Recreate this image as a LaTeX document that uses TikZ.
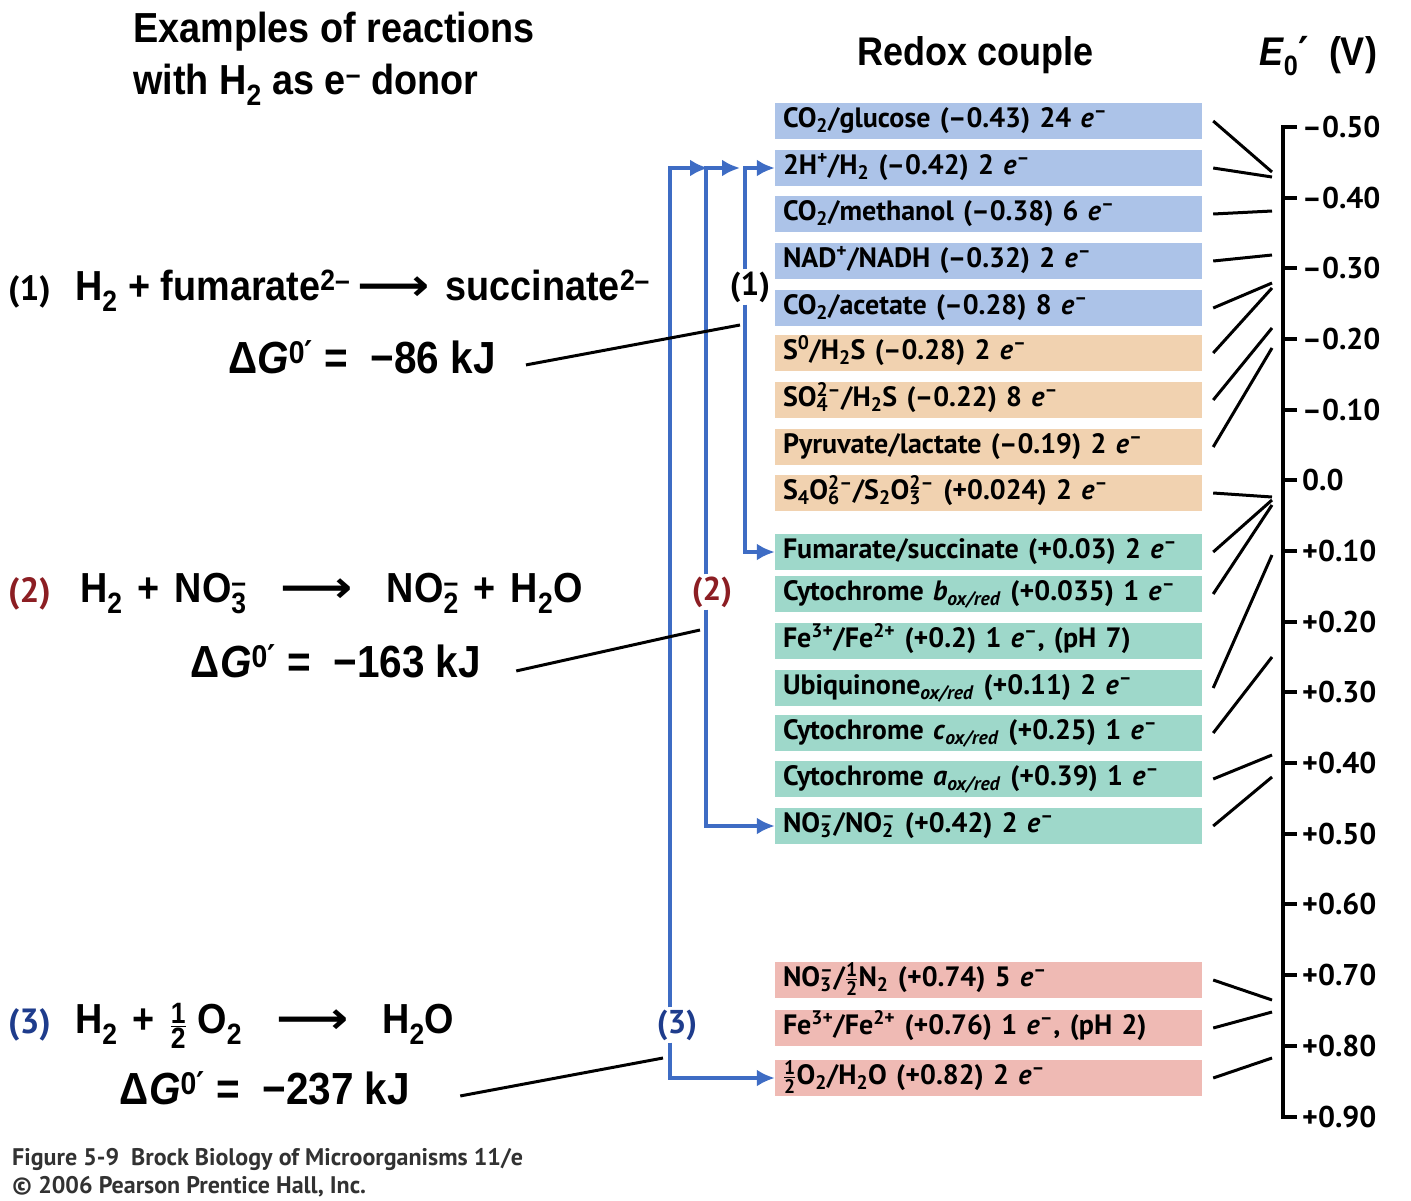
\documentclass[tikz,border=0pt]{standalone}
\usepackage{fontspec}
\usepackage{amsmath}
\usetikzlibrary{arrows.meta,calc}
\newfontfamily\hvy[FakeStretch=0.9]{Liberation Sans}
\newfontfamily\pts{PT Sans}
\newfontfamily\djv{DejaVu Sans}
\definecolor{bxb}{RGB}{172,195,232}
\definecolor{bxt}{RGB}{241,210,176}
\definecolor{bxg}{RGB}{158,216,202}
\definecolor{bxp}{RGB}{239,186,180}
\definecolor{lnblue}{RGB}{62,108,196}
\definecolor{dkred}{RGB}{140,30,35}
\definecolor{dkblue}{RGB}{30,60,140}
\definecolor{ftgray}{RGB}{50,50,50}
\newcommand\sbs[2]{\rlap{\textsubscript{#1}}\textsuperscript{#2}}
\newcommand\el{\textit{e}\textsuperscript{–}}
\newcommand\hf{$\tfrac{\text{1}}{\text{2}}$}
\newcommand\prm{{\djv ′}}
\newcommand\rarr{\scalebox{1.2}[1.05]{\djv ⟶}}
\newcommand\gp{\hspace{15pt}}
\newcommand\ga{\hspace{34pt}}
\begin{document}
\begin{tikzpicture}[x=1pt,y=-1pt,
  box/.style={minimum height=36pt,text width=411pt,inner xsep=8pt,inner ysep=0pt,align=left,text height=19pt,text depth=7pt,font={\pts\bfseries\fontsize{28}{30}\selectfont}},
  hv/.style={inner sep=0pt,font={\hvy\bfseries\fontsize{42}{44}\selectfont}},
  hvg/.style={inner sep=0pt,font={\hvy\bfseries\fontsize{45}{47}\selectfont}},
  hvh/.style={inner sep=0pt,font={\hvy\bfseries\fontsize{40}{42}\selectfont}},
  num/.style={inner sep=0pt,font={\pts\bfseries\fontsize{35}{37}\selectfont}},
  mid/.style={inner sep=2pt,font={\pts\bfseries\fontsize{33}{35}\selectfont}},
  tk/.style={anchor=base west,inner sep=0pt,font={\pts\bfseries\fontsize{30}{31}\selectfont}},
  ft/.style={anchor=base west,inner sep=0pt,text=ftgray,font={\pts\bfseries\fontsize{24}{25}\selectfont}},
  ptr/.style={line width=3pt,black},
  bl/.style={line width=4.5pt,draw=lnblue},
  tip/.style={-{Latex[length=18pt,width=17pt]},lnblue},
  axisln/.style={line width=3.5pt,black}]
\useasboundingbox[fill=white] (0,0) rectangle (1411,1200);

% titles
\node[hv,anchor=base west] (ti1) at (133,42) {Examples of reactions};
\node[hv,anchor=base west] (ti2) at (133,94) {with H\textsubscript{2} as e\textsuperscript{–} donor};
\node[hvh,anchor=base] (hd1) at (976,65) {Redox couple};
\node[hvh,anchor=base] (hd2) at (1318,65) {\textit{E}\textsubscript{0}\prm\enspace(V)};

% reactions
\node[num,anchor=base west] (n1) at (8,300) {(1)};
\node[hv,anchor=base west] (r1) at (75,300) {H\textsubscript{2} + fumarate\textsuperscript{2–}\,\rarr\hspace{16pt}succinate\textsuperscript{2–}};
\node[hvg,anchor=base] (dg1) at (362,373) {Δ\textit{G}\textsuperscript{0\prm} =\enspace −86 kJ};

\node[num,anchor=base west,text=dkred] (n2) at (8,602) {(2)};
\node[hv,anchor=base west] (r2) at (80,602) {H\textsubscript{2}\gp+\gp NO\sbs{3}{–}\ga\rarr\ga NO\sbs{2}{–}\gp+\gp H\textsubscript{2}O};
\node[hvg,anchor=base] (dg2) at (336,677) {Δ\textit{G}\textsuperscript{0\prm} =\enspace −163 kJ};

\node[num,anchor=base west,text=dkblue] (n3) at (8,1033) {(3)};
\node[hv,anchor=base west] (r3) at (75,1033) {H\textsubscript{2}\gp+\gp\hf\ O\textsubscript{2}\ga\rarr\ga H\textsubscript{2}O};
\node[hvg,anchor=base] (dg3) at (265,1104) {Δ\textit{G}\textsuperscript{0\prm} =\enspace −237 kJ};

% footer
\node[ft] (f1) at (12,1165) {Figure 5-9\enspace Brock Biology of Microorganisms 11/e};
\node[ft] (f2) at (12,1193) {© 2006 Pearson Prentice Hall, Inc.};

% boxes
\node[box,fill=bxb] (b1) at (988.5,121) {CO\textsubscript{2}/glucose (–0.43) 24 \el};
\node[box,fill=bxb] (b2) at (988.5,168) {2H\textsuperscript{+}/H\textsubscript{2} (–0.42) 2 \el};
\node[box,fill=bxb] (b3) at (988.5,214) {CO\textsubscript{2}/methanol (–0.38) 6 \el};
\node[box,fill=bxb] (b4) at (988.5,261) {NAD\textsuperscript{+}/NADH (–0.32) 2 \el};
\node[box,fill=bxb] (b5) at (988.5,308) {CO\textsubscript{2}/acetate (–0.28) 8 \el};
\node[box,fill=bxt] (b6) at (988.5,353) {S\textsuperscript{0}/H\textsubscript{2}S (–0.28) 2 \el};
\node[box,fill=bxt] (b7) at (988.5,400) {SO\sbs{4}{2–}/H\textsubscript{2}S (–0.22) 8 \el};
\node[box,fill=bxt] (b8) at (988.5,447) {Pyruvate/lactate (–0.19) 2 \el};
\node[box,fill=bxt] (b9) at (988.5,493) {S\textsubscript{4}O\sbs{6}{2–}/S\textsubscript{2}O\sbs{3}{2–} (+0.024) 2 \el};
\node[box,fill=bxg] (b10) at (988.5,552) {Fumarate/succinate (+0.03) 2 \el};
\node[box,fill=bxg] (b11) at (988.5,594) {Cytochrome \textit{b}\textsubscript{\textit{ox/red}} (+0.035) 1 \el};
\node[box,fill=bxg] (b12) at (988.5,641) {Fe\textsuperscript{3+}/Fe\textsuperscript{2+} (+0.2) 1 \el, (pH 7)};
\node[box,fill=bxg] (b13) at (988.5,688) {Ubiquinone\textsubscript{\textit{ox/red}} (+0.11) 2 \el};
\node[box,fill=bxg] (b14) at (988.5,733) {Cytochrome \textit{c}\textsubscript{\textit{ox/red}} (+0.25) 1 \el};
\node[box,fill=bxg] (b15) at (988.5,779) {Cytochrome \textit{a}\textsubscript{\textit{ox/red}} (+0.39) 1 \el};
\node[box,fill=bxg] (b16) at (988.5,826) {NO\sbs{3}{–}/NO\sbs{2}{–} (+0.42) 2 \el};
\node[box,fill=bxp] (b17) at (988.5,980) {NO\sbs{3}{–}/\hf N\textsubscript{2} (+0.74) 5 \el};
\node[box,fill=bxp] (b18) at (988.5,1028) {Fe\textsuperscript{3+}/Fe\textsuperscript{2+} (+0.76) 1 \el, (pH 2)};
\node[box,fill=bxp] (b19) at (988.5,1078) {\hf O\textsubscript{2}/H\textsubscript{2}O (+0.82) 2 \el};

% scale
\draw[axisln] (1297,127) -- (1283,127) -- (1283,1117) -- (1297,1117);
\foreach \y in {198,268,339,410,480,551,622,692,763,834,904,975,1046}
  \draw[axisln] (1283,\y) -- (1297,\y);
\foreach \y/\t in {127/–0.50,198/–0.40,268/–0.30,339/–0.20,410/–0.10,480/0.0,551/+0.10,622/+0.20,692/+0.30,763/+0.40,834/+0.50,904/+0.60,975/+0.70,1046/+0.80,1117/+0.90}
  \node[tk] at (1302,\y+10) {\t};

% pointers from boxes to scale
\foreach \i/\y in {1/172,2/177,3/211,4/255,5/283,6/288,7/328,8/348,9/497,10/500,11/505,13/555,14/657,15/755,16/777,17/1000,18/1012,19/1058}
  \draw[ptr] ([xshift=11pt]b\i.east) -- (1272,\y);

% reaction labels on connectors
\node[mid] (m1) at (750,287) {(1)};
\node[mid,text=dkred] (m2) at (712,592) {(2)};
\node[mid,text=dkblue] (m3) at (677,1025) {(3)};
\coordinate (x1) at (745,0);
\coordinate (x2) at (706,0);
\coordinate (x3) at (670,0);
\coordinate (a2) at (740,168);
\coordinate (a3) at (708,168);

\draw[bl,tip] (m3.north -| x3) |- (a3);
\draw[bl,tip] (m3.south -| x3) |- (b19.west);
\draw[bl,tip] (m2.north -| x2) |- (a2);
\draw[bl,tip] (m2.south -| x2) |- (b16.west);
\draw[bl,tip] (m1.north -| x1) |- (b2.west);
\draw[bl,tip] (m1.south -| x1) |- (b10.west);

% black connectors from free energies
\coordinate (k1) at (740,325);
\coordinate (k2) at (700,630);
\coordinate (k3) at (663,1058);
\draw[ptr] ([xshift=30pt,yshift=-8pt]dg1.east) -- (k1);
\draw[ptr] ([xshift=35pt,yshift=-10pt]dg2.east) -- (k2);
\draw[ptr] ([xshift=50pt,yshift=-8pt]dg3.east) -- (k3);
\end{tikzpicture}
\end{document}
